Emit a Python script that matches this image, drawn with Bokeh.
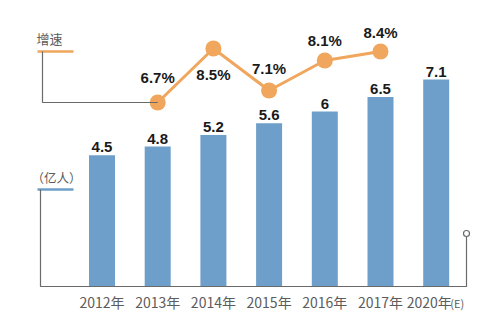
from bokeh.plotting import figure
from bokeh.models import Range1d, ColumnDataSource
from bokeh.core.properties import value
from bokeh.embed import file_html
from bokeh.resources import INLINE

# ---- data ----
years = ["2012年", "2013年", "2014年", "2015年", "2016年", "2017年", "2020年"]
users = [4.5, 4.8, 5.2, 5.6, 6, 6.5, 7.1]
user_labels = ["4.5", "4.8", "5.2", "5.6", "6", "6.5", "7.1"]
growth_years = ["2013年", "2014年", "2015年", "2016年", "2017年"]
growth = [6.7, 8.5, 7.1, 8.1, 8.4]
growth_labels = ["6.7%", "8.5%", "7.1%", "8.1%", "8.4%"]

# ---- layout (pixel geometry) ----
W, H = 498, 328
X0, DX = 101.5, 55.7      # x pixel of first category, spacing
Y0, DY = 286, 29.15       # baseline pixel, px per unit (users)
G0, GY = 303, 30          # growth scale: py = G0 - GY*v

def fx(px):
    return (px - X0) / DX

def fy(py):
    return (Y0 - py) / DY

BLUE = "#6E9FCA"
ORANGE = "#F0A65C"
GRAY = "#6a6a6a"
TXT = "#5c5c5c"

p = figure(width=W, height=H, x_range=Range1d(fx(0), fx(W)),
           y_range=Range1d(fy(H), fy(0)), output_backend="svg",
           toolbar_location=None, min_border=0,
           x_axis_type=None, y_axis_type=None)
p.extra_y_ranges = {"g": Range1d((G0 - H) / GY, G0 / GY)}
p.outline_line_color = None
p.background_fill_color = "white"

xs = list(range(len(years)))
src = ColumnDataSource(dict(x=xs, top=users, lab=user_labels))
p.vbar(x="x", top="top", bottom=0, width=26 / DX, source=src,
       fill_color=BLUE, line_color=None)
p.text(x="x", y="top", text="lab", source=src, text_align="center",
       text_baseline="bottom", y_offset=-3, text_font=value("Liberation Sans"),
       text_font_style="bold", text_font_size="15px", text_color="#1a1a1a")

gx = [years.index(y) for y in growth_years]
label_dy = [-25, 26, -22, -20, -19]
gsrc = ColumnDataSource(dict(x=gx, y=growth, lab=growth_labels, dy=label_dy))
p.line(x="x", y="y", source=gsrc, y_range_name="g", line_color=ORANGE,
       line_width=3)
p.scatter(x="x", y="y", source=gsrc, y_range_name="g", size=16,
          fill_color=ORANGE, line_color=None)
p.text(x="x", y="y", text="lab", source=gsrc, y_range_name="g",
       text_align="center", text_baseline="middle", y_offset="dy",
       text_font=value("Liberation Sans"), text_font_style="bold",
       text_font_size="15px", text_color="#1a1a1a")

# ---- legend-like decorations ----
p.text(x=[fx(36)], y=[fy(38)], text=["增速"], text_align="left",
       text_baseline="middle", text_font=value("Noto Sans CJK SC"),
       text_font_size="13px", text_color=TXT)
p.line(x=[fx(37), fx(73)], y=[fy(51), fy(51)], line_color=ORANGE, line_width=2.5)
first_px = X0 + gx[0] * DX
p.line(x=[fx(42), fx(42), fx(first_px)], y=[fy(51), fy(102), fy(102)],
       line_color=GRAY, line_width=1.2)

p.text(x=[fx(31)], y=[fy(177)], text=["（亿人）"], text_align="left",
       text_baseline="middle", text_font=value("Noto Sans CJK SC"),
       text_font_size="12.5px", text_color=TXT)
p.line(x=[fx(37), fx(73)], y=[fy(189), fy(189)], line_color=BLUE, line_width=2.5)

# axis frame
p.line(x=[fx(40), fx(40), fx(466), fx(466)],
       y=[fy(189), fy(286), fy(286), fy(236)], line_color=GRAY, line_width=1.2)
p.scatter(x=[fx(466)], y=[fy(233)], size=6, fill_color="white",
          line_color=GRAY, line_width=1.2)

# category labels
xoff = [0, 0, 0, 0, 0, 0, -7]
lsrc = ColumnDataSource(dict(x=xs, y=[fy(301)] * len(xs), lab=years, dx=xoff))
p.text(x="x", y="y", text="lab", source=lsrc, x_offset="dx",
       text_align="center", text_baseline="middle",
       text_font=value("Noto Sans CJK SC"), text_font_size="14px",
       text_color=TXT)
p.text(x=[xs[-1]], y=[fy(302)], text=["(E)"], x_offset=14,
       text_align="left", text_baseline="middle",
       text_font=value("Noto Sans CJK SC"), text_font_size="11px",
       text_color=TXT)

open("out.html", "w").write(file_html(p, INLINE))
